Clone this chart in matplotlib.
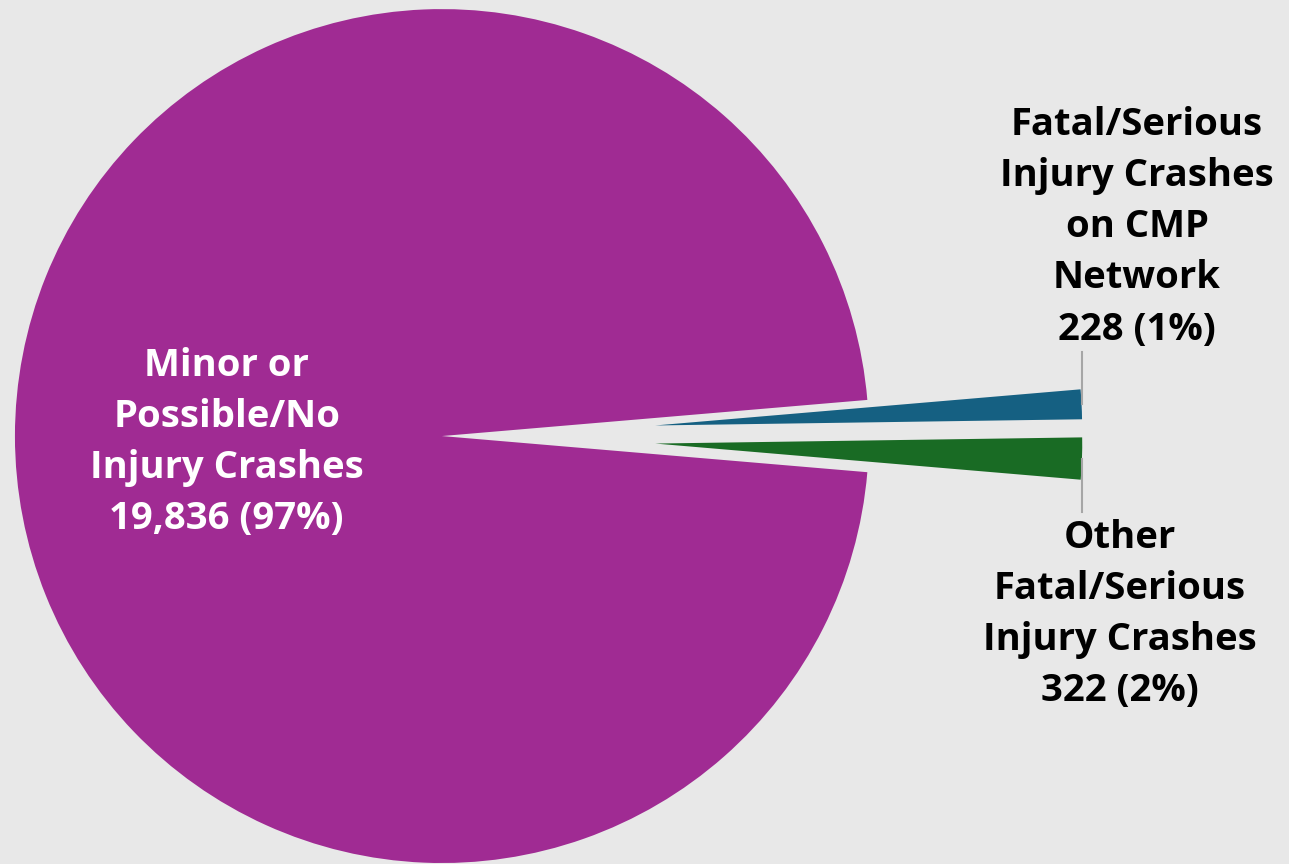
import matplotlib.pyplot as plt
import numpy as np

# crash counts by category
names = ["Fatal/Serious\nInjury Crashes\non CMP\nNetwork",
         "Other\nFatal/Serious\nInjury Crashes",
         "Minor or\nPossible/No\nInjury Crashes"]
counts = [228, 322, 19836]
colors = ["#156082", "#196B24", "#A02B93"]
explode = [0.5, 0.5, 0]

total = sum(counts)
pcts = [round(100 * c / total) for c in counts]
labels = [f"{n}\n{c:,} ({p}%)" for n, c, p in zip(names, counts, pcts)]

plt.rcParams['font.family'] = ['Open Sans', 'DejaVu Sans']
bg = "#E8E8E8"
fig = plt.figure(figsize=(12.89, 8.64), dpi=100, facecolor=bg)
ax = fig.add_axes([0, 0, 1, 1])
ax.set_facecolor(bg)

# small slices centred on the 3 o'clock direction
start = 360 * (counts[0] + counts[1]) / total / 2
wedges, _ = ax.pie(counts, colors=colors, explode=explode, startangle=start,
                   counterclock=False, radius=1.0,
                   wedgeprops=dict(linewidth=0))

ax.set_xlim(-1.035, 1.984)
ax.set_ylim(-1.002, 1.021)
ax.set_aspect('equal')
ax.axis('off')

txt = dict(fontsize=27.5, fontweight='bold', ha='center', linespacing=1.45)

# outer labels with vertical leader lines
label_pos = [(1.628, 0.205, 'bottom'), (1.588, -0.195, 'top')]
for w, lab, (lx, ly, va) in zip(wedges[:2], labels[:2], label_pos):
    mid = np.deg2rad((w.theta1 + w.theta2) / 2)
    cx, cy = w.center
    ox, oy = cx + w.r * np.cos(mid), cy + w.r * np.sin(mid)
    ly_end = ly - 0.008 if va == 'bottom' else ly + 0.017
    ax.plot([ox, ox], [oy, ly_end], color="#A6A6A6", lw=1.5)
    ax.text(lx, ly, lab, va=va, color='black', **txt)

# inside label for the big slice
ax.text(-0.504, -0.015, labels[2], va='center', color='white', **txt)

fig.savefig("out.png", dpi=100, facecolor=bg)
